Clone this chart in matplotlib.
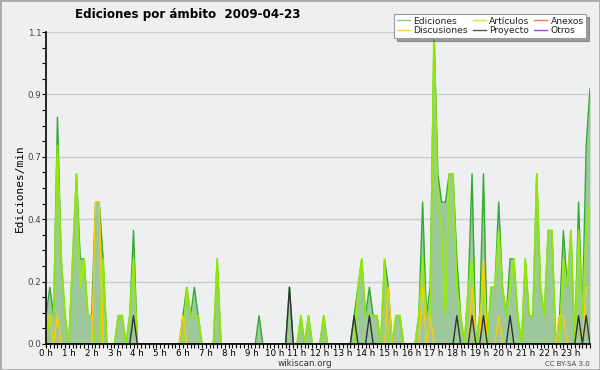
import matplotlib
matplotlib.use("Agg")
import matplotlib.pyplot as plt
from matplotlib.lines import Line2D
from matplotlib.patches import Rectangle
from matplotlib.ticker import FixedLocator, MultipleLocator, FormatStrFormatter
import numpy as np

# ediciones por bloque de 10 minutos (144 bloques = 24 h)
ediciones = [1, 2, 1, 8, 3, 1, 0, 3, 6, 3, 3, 1, 1, 5, 5, 3, 0, 0, 0, 1, 1, 0, 1, 4,
             0, 0, 0, 0, 0, 0, 0, 0, 0, 0, 0, 0, 1, 2, 1, 2, 1, 0, 0, 0, 0, 3, 0, 0,
             0, 0, 0, 0, 0, 0, 0, 0, 1, 0, 0, 0, 0, 0, 0, 0, 2, 0, 0, 1, 0, 1, 0, 0,
             0, 1, 0, 0, 0, 0, 0, 0, 0, 1, 2, 3, 1, 2, 1, 1, 0, 3, 2, 0, 1, 1, 0, 0,
             0, 0, 1, 5, 1, 2, 11, 6, 5, 5, 6, 6, 3, 1, 0, 2, 6, 0, 1, 6, 0, 2, 2, 5,
             2, 1, 3, 3, 1, 0, 3, 1, 1, 6, 2, 1, 4, 4, 0, 1, 4, 2, 4, 0, 5, 1, 7, 9]
articulos = [0, 1, 1, 7, 3, 1, 0, 3, 6, 2, 3, 1, 1, 0, 0, 3, 0, 0, 0, 1, 1, 0, 1, 3,
             0, 0, 0, 0, 0, 0, 0, 0, 0, 0, 0, 0, 0, 2, 1, 1, 1, 0, 0, 0, 0, 3, 0, 0,
             0, 0, 0, 0, 0, 0, 0, 0, 0, 0, 0, 0, 0, 0, 0, 0, 0, 0, 0, 1, 0, 1, 0, 0,
             0, 1, 0, 0, 0, 0, 0, 0, 0, 0, 2, 3, 1, 1, 1, 1, 0, 3, 0, 0, 1, 1, 0, 0,
             0, 0, 1, 3, 1, 1, 11, 5, 4, 1, 6, 6, 2, 1, 0, 2, 3, 0, 1, 2, 0, 2, 2, 4,
             2, 1, 2, 3, 1, 0, 3, 1, 1, 6, 2, 1, 4, 4, 0, 0, 3, 2, 4, 0, 4, 1, 4, 5]
discusiones = [1, 1, 0, 1, 0, 0, 0, 0, 0, 0, 0, 0, 0, 5, 5, 0, 0, 0, 0, 0, 0, 0, 0, 0,
               0, 0, 0, 0, 0, 0, 0, 0, 0, 0, 0, 0, 1, 0, 0, 0, 0, 0, 0, 0, 0, 0, 0, 0,
               0, 0, 0, 0, 0, 0, 0, 0, 0, 0, 0, 0, 0, 0, 0, 0, 0, 0, 0, 0, 0, 0, 0, 0,
               0, 0, 0, 0, 0, 0, 0, 0, 0, 0, 0, 0, 0, 0, 0, 0, 0, 0, 2, 0, 0, 0, 0, 0,
               0, 0, 0, 2, 0, 1, 0, 0, 0, 0, 0, 0, 0, 0, 0, 0, 2, 0, 0, 3, 0, 0, 0, 1,
               0, 0, 0, 0, 0, 0, 0, 0, 0, 0, 0, 0, 0, 0, 0, 1, 1, 0, 0, 0, 0, 0, 2, 2]
proyecto = [0, 0, 0, 0, 0, 0, 0, 0, 0, 0, 0, 0, 0, 0, 0, 0, 0, 0, 0, 0, 0, 0, 0, 1,
            0, 0, 0, 0, 0, 0, 0, 0, 0, 0, 0, 0, 0, 0, 0, 0, 0, 0, 0, 0, 0, 0, 0, 0,
            0, 0, 0, 0, 0, 0, 0, 0, 0, 0, 0, 0, 0, 0, 0, 0, 2, 0, 0, 0, 0, 0, 0, 0,
            0, 0, 0, 0, 0, 0, 0, 0, 0, 1, 0, 0, 0, 1, 0, 0, 0, 0, 0, 0, 0, 0, 0, 0,
            0, 0, 0, 0, 0, 0, 0, 0, 0, 0, 0, 0, 1, 0, 0, 0, 1, 0, 0, 1, 0, 0, 0, 0,
            0, 0, 1, 0, 0, 0, 0, 0, 0, 0, 0, 0, 0, 0, 0, 0, 0, 0, 0, 0, 1, 0, 1, 0]
horas = ["%d h" % h for h in range(24)]
y_ticks = [0, 0.22, 0.44, 0.66, 0.88, 1.1]

x = np.arange(len(ediciones))
# ediciones por minuto
ed = np.array(ediciones) / 10
ar = np.array(articulos) / 10
di = np.array(discusiones) / 10
pr = np.array(proyecto) / 10

fig = plt.figure(figsize=(6, 3.7), dpi=100, facecolor="#efefef")
ax = fig.add_axes([0.0767, 0.0703, 0.9066, 0.8432])
ax.set_facecolor("#eeeff1")

ax.fill_between(x, 0, ed, color="#9cc89c", lw=0)
ax.plot(x, ed, color="#33aa33", lw=1.0)
ax.plot(x, ar, color="#99ee00", lw=1.3, alpha=0.9)
ax.plot(x, di, color="#ffcc00", lw=1.0)
ax.plot(x, pr, color="#333333", lw=1.0)

ax.set_xlim(0, 143)
ax.set_ylim(0, 1.1)
ax.yaxis.set_major_locator(FixedLocator(y_ticks))
ax.yaxis.set_minor_locator(MultipleLocator(0.055))
ax.yaxis.set_major_formatter(FormatStrFormatter("%.1f"))
ax.set_xticks(np.arange(0, 144, 6))
ax.set_xticklabels(horas)
ax.xaxis.set_minor_locator(MultipleLocator(1))
ax.tick_params(axis="both", which="both", direction="out", length=3, width=0.8,
               labelsize=6.3, colors="black", pad=0.5)
ax.tick_params(axis="y", labelcolor="#444444")
ax.grid(axis="y", color="#cccccc", lw=1)
ax.set_axisbelow(True)
for s in ["top", "right"]:
    ax.spines[s].set_visible(False)
ax.spines["left"].set_linewidth(1.2)
ax.spines["bottom"].set_linewidth(1.2)

ax.set_ylabel("Ediciones/min", family="DejaVu Sans Mono", fontsize=8, labelpad=2)

fig.text(0.313, 0.952, "Ediciones por ámbito  2009-04-23", ha="center",
         fontsize=8.6, fontweight="bold")
fig.text(0.508, 0.012, "wikiscan.org", ha="center", fontsize=6.3, color="#333333")
fig.text(0.983, 0.012, "CC BY-SA 3.0", ha="right", fontsize=5, color="#444444")

handles = [Line2D([], [], color="#88cc88", lw=1),
           Line2D([], [], color="#ffcc44", lw=1),
           Line2D([], [], color="#ccee44", lw=1),
           Line2D([], [], color="#555555", lw=1),
           Line2D([], [], color="#ff7744", lw=1),
           Line2D([], [], color="#9944ee", lw=1)]
labels = ["Ediciones", "Discusiones", "Artículos", "Proyecto", "Anexos", "Otros"]
leg = fig.legend(handles, labels, ncol=3, loc="upper right",
                 bbox_to_anchor=(0.985, 0.975), fontsize=6.6, frameon=True,
                 fancybox=False, shadow=True, borderpad=0.3, labelspacing=0.05,
                 handlelength=1.4, handletextpad=0.4, columnspacing=0.5)
leg.get_frame().set_edgecolor("#999999")
leg.get_frame().set_linewidth(0.8)
for t in leg.get_texts():
    t.set_color("#222222")

fig.patches.append(Rectangle((0, 0), 1, 1, transform=fig.transFigure, fill=False,
                             edgecolor="#aaaaaa", lw=2))

fig.savefig("out.png", dpi=100, facecolor=fig.get_facecolor())
